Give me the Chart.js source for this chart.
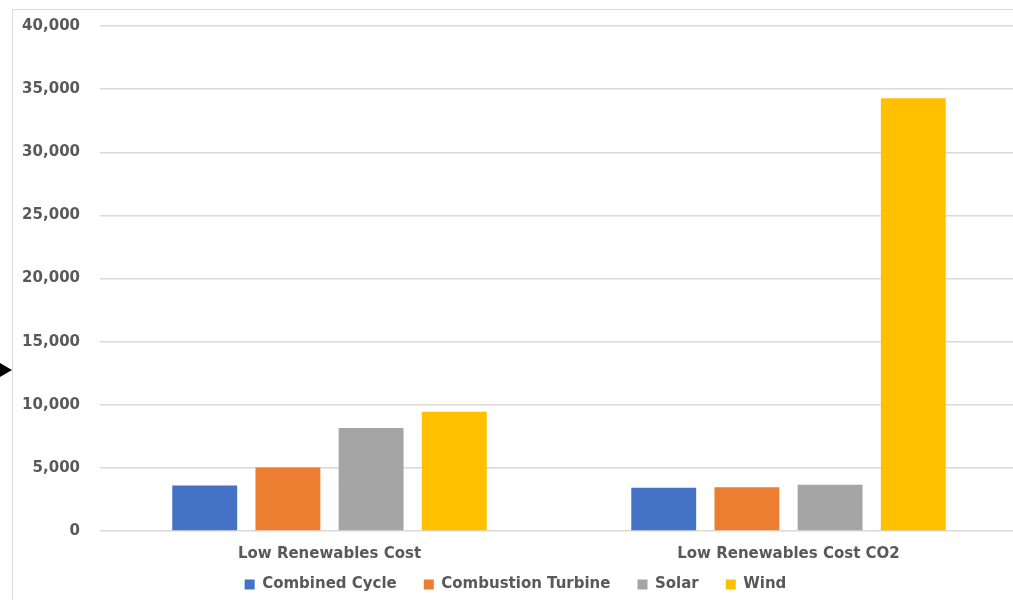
<!DOCTYPE html>
<html lang="en">
<head>
  <meta charset="UTF-8" />
  <title>Renewables Cost Chart</title>
  <script src="https://cdn.jsdelivr.net/npm/chart.js"></script>
  <style>
    * {
      margin: 0;
      padding: 0;
      box-sizing: border-box;
    }

    body {
      width: 1013px;
      height: 600px;
      overflow: hidden;
      background: #fff;
      position: relative;
    }

    .frame {
      position: absolute;
      left: 12px;
      top: 9px;
      width: 1020px;
      height: 620px;
      border: 1px solid #d9d9d9;
    }

    .arrow {
      position: absolute;
      left: 0;
      top: 363px;
      width: 0;
      height: 0;
      border-top: 7px solid transparent;
      border-bottom: 7px solid transparent;
      border-left: 12px solid #000;
    }

    .chart-box {
      position: absolute;
      left: 13px;
      top: 10px;
      width: 1005px;
      height: 592px;
    }
  </style>
</head>
<body>
  <div class="frame"></div>
  <div class="arrow"></div>
  <div class="chart-box">
    <canvas id="costChart"></canvas>
  </div>

  <script>
    const categories = ['Low Renewables Cost', 'Low Renewables Cost CO2'];
    const combinedCycle = [3610, 3420];
    const combustionTurbine = [5030, 3475];
    const solar = [8160, 3660];
    const wind = [9450, 34280];
    const yTicks = [0, 5000, 10000, 15000, 20000, 25000, 30000, 35000, 40000];

    const textColor = '#595959';
    const font = { family: "'DejaVu Sans', sans-serif", size: 15, weight: 'bold' };

    const ctx = document.getElementById('costChart').getContext('2d');

    new Chart(ctx, {
      type: 'bar',
      data: {
        labels: categories,
        datasets: [
          { label: 'Combined Cycle', data: combinedCycle, backgroundColor: '#4472C4' },
          { label: 'Combustion Turbine', data: combustionTurbine, backgroundColor: '#ED7D31' },
          { label: 'Solar', data: solar, backgroundColor: '#A5A5A5' },
          { label: 'Wind', data: wind, backgroundColor: '#FFC000' }
        ]
      },
      options: {
        responsive: true,
        maintainAspectRatio: false,
        animation: false,
        datasets: {
          bar: {
            categoryPercentage: 0.725,
            barPercentage: 0.78
          }
        },
        layout: {
          padding: { top: 16, right: 0, left: 0, bottom: 0 }
        },
        plugins: {
          legend: {
            position: 'bottom',
            labels: {
              color: textColor,
              font: font,
              boxWidth: 10,
              boxHeight: 10,
              padding: 27
            }
          },
          tooltip: { enabled: false }
        },
        scales: {
          x: {
            // squeeze the axis box so the legend sits close; labels may spill below it
            afterFit: (scale) => {
              scale.height = 19;
              scale._computeLabelArea = () => undefined;
            },
            grid: { display: false, drawTicks: false },
            border: { display: false },
            ticks: { color: textColor, font: font, padding: 14 }
          },
          y: {
            min: 0,
            max: 40000,
            afterFit: (scale) => { scale.width = 87; },
            afterBuildTicks: (scale) => {
              scale.ticks = yTicks.map(v => ({ value: v }));
            },
            grid: { color: '#d9d9d9', lineWidth: 1.5, tickLength: 16, tickColor: 'rgba(0,0,0,0)' },
            border: { display: false },
            ticks: {
              color: textColor,
              font: font,
              padding: 4,
              callback: (v) => v.toLocaleString('en-US')
            }
          }
        }
      }
    });
  </script>
</body>
</html>
